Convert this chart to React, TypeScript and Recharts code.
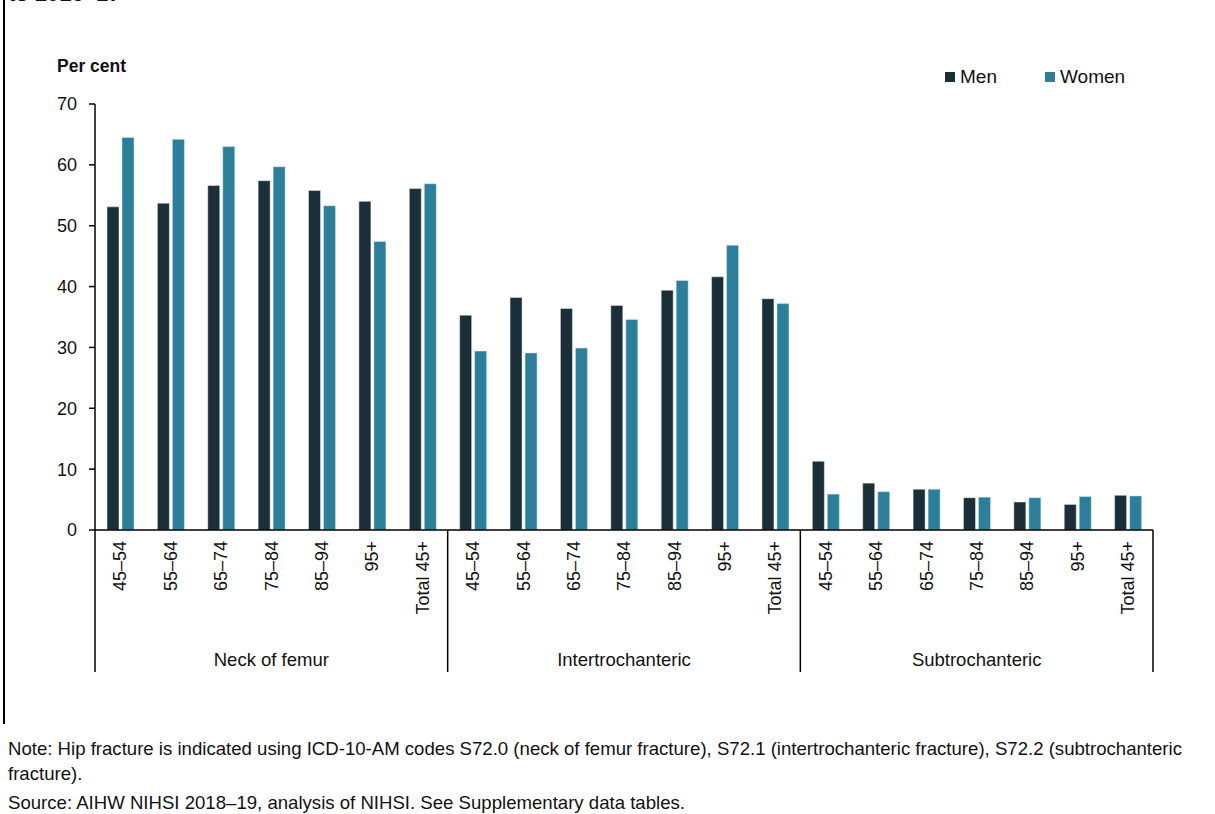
import React from 'react';
import { BarChart, Bar, XAxis, YAxis } from 'recharts';

const ageGroups = ['45–54', '55–64', '65–74', '75–84', '85–94', '95+', 'Total 45+'];
const fractureTypes = ['Neck of femur', 'Intertrochanteric', 'Subtrochanteric'];

const menNeck = [53.1, 53.7, 56.6, 57.4, 55.8, 54.0, 56.1];
const womenNeck = [64.5, 64.2, 63.0, 59.7, 53.3, 47.4, 56.9];
const menInter = [35.3, 38.2, 36.4, 36.9, 39.4, 41.6, 38.0];
const womenInter = [29.4, 29.1, 29.9, 34.6, 41.0, 46.8, 37.2];
const menSub = [11.3, 7.7, 6.7, 5.3, 4.6, 4.2, 5.7];
const womenSub = [5.9, 6.3, 6.7, 5.4, 5.3, 5.5, 5.6];

const yTicks = [0, 10, 20, 30, 40, 50, 60, 70];

const MEN = '#1b2f38';
const WOMEN = '#2c7f9a';
const FONT = '"Liberation Sans", Arial, sans-serif';

const menAll = [menNeck, menInter, menSub];
const womenAll = [womenNeck, womenInter, womenSub];

const data = fractureTypes.flatMap((type, g) =>
  ageGroups.map((age, i) => ({
    key: `${g}-${i}`,
    age,
    type,
    men: menAll[g][i],
    women: womenAll[g][i],
  }))
);

const CHART_W = 1215;
const CHART_H = 700;
const X_H = 170;
const M = { top: 104, right: 62, bottom: 0, left: 0 };
const Y_W = 95;
const STEP = (CHART_W - M.left - M.right - Y_W) / data.length;

const AgeTick = (props: any) => {
  const { x, y, index } = props;
  const d = data[index];
  if (!d) return null;
  const pos = index % ageGroups.length;
  return (
    <g>
      <text
        x={x}
        y={y + 11}
        transform={`rotate(-90, ${x}, ${y + 11})`}
        textAnchor="end"
        dy="0.35em"
        fontSize={18}
        fill="#111"
        fontFamily={FONT}
      >
        {d.age}
      </text>
      {pos === 0 && (
        <line x1={x - STEP / 2} x2={x - STEP / 2} y1={y} y2={y + 142} stroke="#000" strokeWidth={1.5} />
      )}
      {index === data.length - 1 && (
        <line x1={x + STEP / 2} x2={x + STEP / 2} y1={y} y2={y + 142} stroke="#000" strokeWidth={1.5} />
      )}
      {pos === 3 && (
        <text x={x} y={y + 136} textAnchor="middle" fontSize={18.5} fill="#111" fontFamily={FONT}>
          {d.type}
        </text>
      )}
    </g>
  );
};

const LegendItem = ({ color, label, left }: { color: string; label: string; left: number }) => (
  <div style={{ position: 'absolute', left, top: 66, display: 'flex', alignItems: 'center' }}>
    <span style={{ width: 10, height: 10, background: color, display: 'inline-block', marginRight: 5 }} />
    <span style={{ fontSize: 19, color: '#111' }}>{label}</span>
  </div>
);

export default function App() {
  return (
    <div
      style={{
        position: 'absolute',
        left: 0,
        top: 0,
        width: 1215,
        height: 814,
        background: '#fff',
        fontFamily: FONT,
        overflow: 'hidden',
      }}
    >
      <div style={{ position: 'absolute', left: 3, top: 0, width: 2, height: 724, background: '#000' }} />
      <div style={{ position: 'absolute', left: 8, top: -19, fontSize: 22, fontWeight: 'bold', color: '#111' }}>
        to 2016–17
      </div>
      <div style={{ position: 'absolute', left: 57, top: 56, fontSize: 17.5, fontWeight: 'bold', color: '#111' }}>
        Per cent
      </div>
      <LegendItem color={MEN} label="Men" left={945} />
      <LegendItem color={WOMEN} label="Women" left={1045} />

      <div style={{ position: 'absolute', left: 0, top: 0 }}>
        <BarChart width={CHART_W} height={CHART_H} data={data} margin={M} barSize={12} barGap={3}>
          <YAxis
            width={Y_W}
            domain={[0, 70]}
            ticks={yTicks}
            interval={0}
            axisLine={{ stroke: '#000', strokeWidth: 1.5 }}
            tickLine={{ stroke: '#000', strokeWidth: 1.5 }}
            tickSize={6}
            tickMargin={12}
            tick={{ fontSize: 18, fill: '#111', fontFamily: FONT }}
          />
          <XAxis
            dataKey="key"
            interval={0}
            height={X_H}
            tickSize={0}
            tickMargin={0}
            tickLine={false}
            axisLine={{ stroke: '#000', strokeWidth: 1.5 }}
            tick={<AgeTick />}
          />
          <Bar dataKey="men" name="Men" fill={MEN} stroke="#e6eef0" strokeWidth={0.5} isAnimationActive={false} />
          <Bar dataKey="women" name="Women" fill={WOMEN} stroke="#d9ecf2" strokeWidth={0.5} isAnimationActive={false} />
        </BarChart>
      </div>

      <div style={{ position: 'absolute', left: 8, top: 736, width: 1200, fontSize: 18.6, lineHeight: '25px', color: '#111' }}>
        Note: Hip fracture is indicated using ICD-10-AM codes S72.0 (neck of femur fracture), S72.1 (intertrochanteric fracture), S72.2 (subtrochanteric fracture).
      </div>
      <div style={{ position: 'absolute', left: 8, top: 792, fontSize: 18.6, color: '#111' }}>
        Source: AIHW NIHSI 2018–19, analysis of NIHSI. See Supplementary data tables.
      </div>
    </div>
  );
}
